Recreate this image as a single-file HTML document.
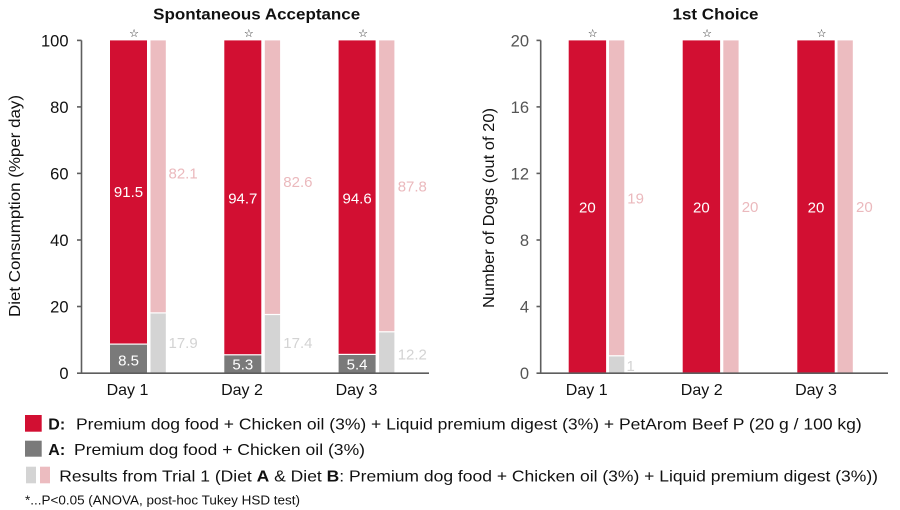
<!DOCTYPE html>
<html>
<head>
<meta charset="utf-8">
<style>
  html,body{margin:0;padding:0;background:#fff;}
  svg{display:block;}
  text{font-family:"Liberation Sans", Arial, sans-serif;}
  .star{font-family:"DejaVu Sans",sans-serif;font-size:11px;fill:#222;}
</style>
</head>
<body>
<svg width="900" height="510" viewBox="0 0 900 510" xmlns="http://www.w3.org/2000/svg">
  <rect width="900" height="510" fill="#fff"/>

  <!-- ===== LEFT CHART ===== -->
  <text x="256.7" y="19.5" font-size="16" font-weight="bold" text-anchor="middle" fill="#111" textLength="207" lengthAdjust="spacingAndGlyphs">Spontaneous Acceptance</text>

  <text transform="translate(20,206) rotate(-90)" font-size="15.5" text-anchor="middle" fill="#111" textLength="222" lengthAdjust="spacingAndGlyphs">Diet Consumption (%per day)</text>

  <!-- bars Day 1 -->
  <rect x="110" y="40.4" width="37" height="303.1" fill="#d20f32"/>
  <rect x="110" y="344.7" width="37" height="28.3" fill="#7a7a7a"/>
  <rect x="150.5" y="40.4" width="15.3" height="271.9" fill="#ecbcc0"/>
  <rect x="150.5" y="313.5" width="15.3" height="59.5" fill="#d4d4d4"/>
  <!-- Day 2 -->
  <rect x="224.3" y="40.4" width="37" height="313.8" fill="#d20f32"/>
  <rect x="224.3" y="355.4" width="37" height="17.6" fill="#7a7a7a"/>
  <rect x="264.8" y="40.4" width="15.3" height="273.5" fill="#ecbcc0"/>
  <rect x="264.8" y="315.1" width="15.3" height="57.9" fill="#d4d4d4"/>
  <!-- Day 3 -->
  <rect x="338.6" y="40.4" width="37" height="313.4" fill="#d20f32"/>
  <rect x="338.6" y="355.0" width="37" height="18" fill="#7a7a7a"/>
  <rect x="379.1" y="40.4" width="15.3" height="290.8" fill="#ecbcc0"/>
  <rect x="379.1" y="332.4" width="15.3" height="40.6" fill="#d4d4d4"/>

  <!-- stars -->
  <g text-anchor="middle">
    <text class="star" x="134" y="37">☆</text>
    <text class="star" x="248.8" y="37">☆</text>
    <text class="star" x="363" y="37">☆</text>
    <text class="star" x="592.7" y="37">☆</text>
    <text class="star" x="707" y="37">☆</text>
    <text class="star" x="821.5" y="37">☆</text>
  </g>

  <!-- value labels left -->
  <g font-size="15" fill="#fff" text-anchor="middle">
    <text x="128.5" y="197">91.5</text>
    <text x="242.8" y="203.3">94.7</text>
    <text x="357.1" y="203.3">94.6</text>
    <text x="128.5" y="365.3">8.5</text>
    <text x="242.8" y="369.6">5.3</text>
    <text x="357.1" y="369.6">5.4</text>
  </g>
  <g font-size="15" fill="#ebb9bd">
    <text x="168.5" y="178.3">82.1</text>
    <text x="283.3" y="187">82.6</text>
    <text x="397.7" y="191.3">87.8</text>
  </g>
  <g font-size="15" fill="#d3d3d3">
    <text x="168.5" y="348">17.9</text>
    <text x="283.3" y="348">17.4</text>
    <text x="397.7" y="359.3">12.2</text>
  </g>

  <!-- axes left -->
  <g stroke="#5e5e5e" stroke-width="1.6" fill="none">
    <line x1="81.5" y1="40.4" x2="81.5" y2="373.5"/>
    <line x1="77" y1="373.2" x2="429" y2="373.2"/>
    <line x1="77" y1="40.4" x2="81.5" y2="40.4"/>
    <line x1="77" y1="106.9" x2="81.5" y2="106.9"/>
    <line x1="77" y1="173.4" x2="81.5" y2="173.4"/>
    <line x1="77" y1="240" x2="81.5" y2="240"/>
    <line x1="77" y1="306.5" x2="81.5" y2="306.5"/>
  </g>
  <g font-size="16.5" fill="#111" text-anchor="end">
    <text x="68.5" y="46.3">100</text>
    <text x="68.5" y="112.8">80</text>
    <text x="68.5" y="179.3">60</text>
    <text x="68.5" y="245.9">40</text>
    <text x="68.5" y="312.4">20</text>
    <text x="68.5" y="378.9">0</text>
  </g>
  <g font-size="16" fill="#111" text-anchor="middle">
    <text x="127.5" y="395">Day 1</text>
    <text x="242" y="395">Day 2</text>
    <text x="356.5" y="395">Day 3</text>
  </g>

  <!-- ===== RIGHT CHART ===== -->
  <text x="715.5" y="19.5" font-size="16" font-weight="bold" text-anchor="middle" fill="#111" textLength="86" lengthAdjust="spacingAndGlyphs">1st Choice</text>
  <text transform="translate(494,208) rotate(-90)" font-size="15.5" text-anchor="middle" fill="#111" textLength="200" lengthAdjust="spacingAndGlyphs">Number of Dogs (out of 20)</text>

  <rect x="568.7" y="40.4" width="37.4" height="332.6" fill="#d20f32"/>
  <rect x="609" y="40.4" width="15.3" height="314.8" fill="#ecbcc0"/>
  <rect x="609" y="356.4" width="15.3" height="16.6" fill="#d4d4d4"/>

  <rect x="682.7" y="40.4" width="37.4" height="332.6" fill="#d20f32"/>
  <rect x="723.3" y="40.4" width="15.3" height="332.6" fill="#ecbcc0"/>

  <rect x="797.3" y="40.4" width="37.4" height="332.6" fill="#d20f32"/>
  <rect x="837.5" y="40.4" width="15.3" height="332.6" fill="#ecbcc0"/>

  <g font-size="15" fill="#fff" text-anchor="middle">
    <text x="587.4" y="212.3">20</text>
    <text x="701.4" y="212.3">20</text>
    <text x="816" y="212.3">20</text>
  </g>
  <g font-size="15" fill="#ebb9bd">
    <text x="627.3" y="203.7">19</text>
    <text x="741.7" y="212">20</text>
    <text x="856" y="212">20</text>
  </g>
  <text x="626.5" y="371" font-size="15" fill="#d3d3d3">1</text>

  <g stroke="#5e5e5e" stroke-width="1.6" fill="none">
    <line x1="540.7" y1="40.4" x2="540.7" y2="373.5"/>
    <line x1="536.5" y1="373.2" x2="888" y2="373.2"/>
    <line x1="536.5" y1="40.4" x2="540.7" y2="40.4"/>
    <line x1="536.5" y1="106.9" x2="540.7" y2="106.9"/>
    <line x1="536.5" y1="173.4" x2="540.7" y2="173.4"/>
    <line x1="536.5" y1="240" x2="540.7" y2="240"/>
    <line x1="536.5" y1="306.5" x2="540.7" y2="306.5"/>
  </g>
  <g font-size="16.5" fill="#555" text-anchor="end">
    <text x="529" y="46.3">20</text>
    <text x="529" y="112.8">16</text>
    <text x="529" y="179.3">12</text>
    <text x="529" y="245.9">8</text>
    <text x="529" y="312.4">4</text>
    <text x="529" y="378.9">0</text>
  </g>
  <g font-size="16" fill="#111" text-anchor="middle">
    <text x="586.7" y="395">Day 1</text>
    <text x="701.7" y="395">Day 2</text>
    <text x="816" y="395">Day 3</text>
  </g>

  <!-- ===== LEGEND ===== -->
  <rect x="25" y="415" width="16.7" height="16.7" fill="#d20f32"/>
  <rect x="25" y="440.7" width="16.7" height="16" fill="#7a7a7a"/>
  <rect x="26" y="466.7" width="10" height="16.6" fill="#d4d4d4"/>
  <rect x="40" y="466.7" width="10" height="16.6" fill="#ecbcc0"/>

  <text x="48.3" y="429.3" font-size="16" font-weight="bold" fill="#111">D:</text>
  <text x="76" y="429.3" font-size="16" fill="#111" textLength="785.7" lengthAdjust="spacingAndGlyphs">Premium dog food + Chicken oil (3%) + Liquid premium digest (3%) + PetArom Beef P (20 g / 100 kg)</text>

  <text x="48.3" y="455" font-size="16" font-weight="bold" fill="#111">A:</text>
  <text x="74" y="455" font-size="16" fill="#111" textLength="291" lengthAdjust="spacingAndGlyphs">Premium dog food + Chicken oil (3%)</text>

  <text x="59.3" y="481.7" font-size="16" fill="#111" textLength="818.7" lengthAdjust="spacingAndGlyphs">Results from Trial 1 (Diet <tspan font-weight="bold">A</tspan> &amp; Diet <tspan font-weight="bold">B</tspan>:  Premium dog food + Chicken oil (3%) + Liquid premium digest (3%))</text>

  <text x="25" y="504.3" font-size="12.5" fill="#111" textLength="275" lengthAdjust="spacingAndGlyphs">*...P&lt;0.05 (ANOVA, post-hoc Tukey HSD test)</text>
</svg>
</body>
</html>
